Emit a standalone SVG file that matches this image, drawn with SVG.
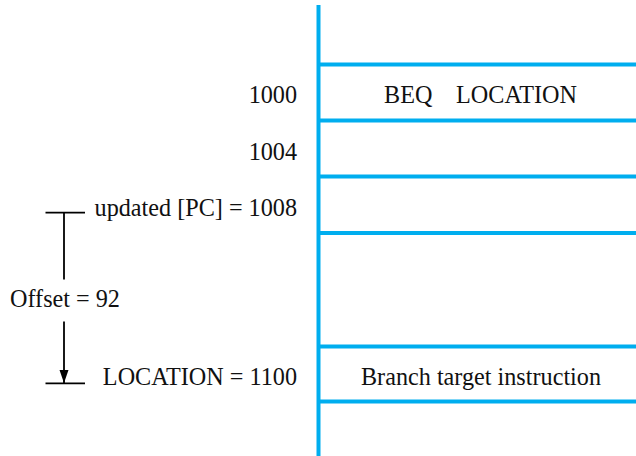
<svg xmlns="http://www.w3.org/2000/svg" width="636" height="456" viewBox="0 0 636 456">
  <style>
    .mem { stroke: #00AEEF; stroke-width: 4; fill: none; }
    .blk { stroke: #000; stroke-width: 1.8; fill: none; }
    text { font-family: "Liberation Serif", "Times New Roman", serif; font-size: 24.2px; fill: #111; }
  </style>
  <defs>
    <marker id="arr" viewBox="0 0 13 10" refX="13" refY="5" markerWidth="13" markerHeight="10" markerUnits="userSpaceOnUse" orient="auto">
      <path d="M0,0.5 L13,5 L0,9.5 Z" fill="#000"/>
    </marker>
  </defs>
  <g id="memory">
    <line class="mem" x1="318.5" y1="5" x2="318.5" y2="456"/>
    <line class="mem" x1="318.5" y1="64.5" x2="636" y2="64.5"/>
    <line class="mem" x1="318.5" y1="120.5" x2="636" y2="120.5"/>
    <line class="mem" x1="318.5" y1="176.5" x2="636" y2="176.5"/>
    <line class="mem" x1="318.5" y1="233" x2="636" y2="233"/>
    <line class="mem" x1="318.5" y1="346.5" x2="636" y2="346.5"/>
    <line class="mem" x1="318.5" y1="401.5" x2="636" y2="401.5"/>
  </g>
  <g id="word1000">
    <text x="297" y="103" text-anchor="end">1000</text>
    <text x="384" y="103">BEQ</text>
    <text x="456" y="103">LOCATION</text>
  </g>
  <g id="word1004">
    <text x="297" y="159.5" text-anchor="end">1004</text>
  </g>
  <g id="word1008">
    <text x="297" y="216" text-anchor="end">updated [PC] = 1008</text>
  </g>
  <g id="target">
    <text x="297" y="384.5" text-anchor="end">LOCATION = 1100</text>
    <text x="481" y="385" text-anchor="middle">Branch target instruction</text>
  </g>
  <g id="offset">
    <text x="10" y="307">Offset = 92</text>
  </g>
  <g id="connectors">
    <line class="blk" x1="45.5" y1="212.7" x2="85" y2="212.7"/>
    <line class="blk" x1="64" y1="212.7" x2="64" y2="279.5"/>
    <line class="blk" x1="64" y1="321.5" x2="64" y2="383" marker-end="url(#arr)"/>
    <line class="blk" x1="45.5" y1="383.3" x2="85" y2="383.3"/>
  </g>
</svg>
